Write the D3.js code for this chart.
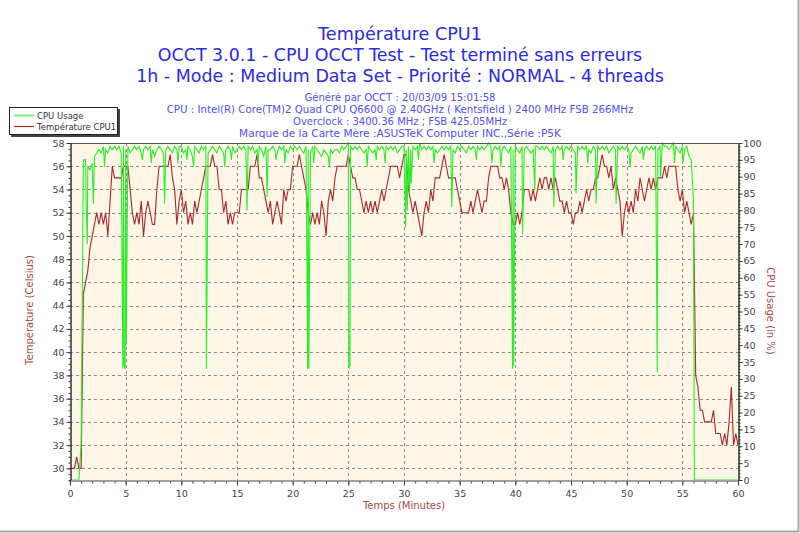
<!DOCTYPE html>
<html>
<head>
<meta charset="utf-8">
<script src="https://cdn.jsdelivr.net/npm/d3@7"></script>
<style>
  body { margin: 0; background: #fff; }
  svg { display: block; font-family: "DejaVu Sans", sans-serif; }
</style>
</head>
<body>
<div id="chart"></div>
<script>
var svgWidth = 800;
var svgHeight = 533;

// plot box (pixels)
var plot = { left: 70, right: 738, top: 143, bottom: 480 };

// text of the chart
var titleLines = [
  "Température CPU1",
  "OCCT 3.0.1 - CPU OCCT Test - Test terminé sans erreurs",
  "1h - Mode : Medium Data Set - Priorité : NORMAL - 4 threads"
];
var infoLines = [
  "Généré par OCCT : 20/03/09 15:01:58",
  "CPU : Intel(R) Core(TM)2 Quad CPU Q6600 @ 2.40GHz ( Kentsfield ) 2400 MHz FSB 266MHz",
  "Overclock : 3400.36 MHz ; FSB 425.05MHz",
  "Marque de la Carte Mère :ASUSTeK Computer INC.,Série :P5K"
];
var seriesNames = ["CPU Usage", "Température CPU1"];

// tick values
var timeTicks = [0, 5, 10, 15, 20, 25, 30, 35, 40, 45, 50, 55, 60];
var tempTicks = [30, 32, 34, 36, 38, 40, 42, 44, 46, 48, 50, 52, 54, 56, 58];
var usageTicks = [0, 5, 10, 15, 20, 25, 30, 35, 40, 45, 50, 55, 60, 65, 70, 75, 80, 85, 90, 95, 100];

// samples every 0.2 minute, from 0 to 60
var sampleStep = 0.2;

var tempValues = [
  30,30,30,31,30,30,45,46,47,49,
  50,51,52,51,52,51,52,50,53,56,
  55,55,55,55,56,56,56,54,52,51,
  52,51,53,50,52,53,52,51,51,54,
  56,56,56,56,56,57,55,54,51,53,
  54,52,53,51,52,51,53,52,53,54,
  55,56,56,56,57,56,56,54,54,52,
  53,51,52,51,52,52,52,54,54,54,
  54,56,56,56,57,55,55,54,53,52,
  53,51,52,53,52,51,54,53,54,54,
  56,56,56,57,56,55,54,52,51,52,
  51,52,51,53,52,50,53,54,53,55,
  56,56,56,56,56,57,56,55,55,54,
  54,53,52,53,52,53,52,53,52,53,
  54,53,54,55,56,56,56,56,55,56,
  57,57,54,53,52,53,52,51,50,52,
  53,52,54,53,55,55,55,56,57,56,
  55,55,55,55,54,53,52,52,52,52,
  53,52,53,54,53,52,53,53,55,56,
  56,56,56,55,55,54,55,54,52,51,
  51,52,51,52,54,54,54,53,54,53,
  54,55,54,55,55,54,55,54,55,54,
  53,53,52,53,52,52,51,52,52,53,
  52,53,54,53,54,54,55,55,56,57,
  56,56,55,56,54,55,54,53,50,52,
  53,52,53,52,54,53,55,54,53,54,
  55,54,55,54,55,55,55,56,55,56,
  56,56,56,54,53,54,52,53,52,51,
  52,38,37,35,35,34,34,34,34,35,
  33,33,33,32,33,32,34,37,32,33,
  32
];

var usageValues = [
  0,0,0,0,0,11,95,95,93,92,
  94,96,97,98,97,99,98,97,99,98,
  99,98,99,97,99,98,99,97,98,99,
  98,99,97,98,99,98,99,98,96,98,
  99,98,97,98,99,98,97,99,98,99,
  99,97,98,99,98,96,99,98,97,99,
  98,99,97,98,99,98,97,99,98,97,
  98,99,98,99,97,98,99,98,99,98,
  99,98,99,97,98,99,98,96,99,98,
  98,99,98,97,99,98,99,98,97,99,
  98,99,98,99,98,97,99,98,97,99,
  99,98,97,96,98,97,96,98,97,98,
  98,97,99,98,99,100,99,98,99,98,
  99,98,97,98,99,98,97,98,99,98,
  99,98,99,98,99,98,99,97,98,99,
  99,98,99,98,99,98,99,100,98,99,
  98,99,98,99,98,97,98,99,98,99,
  98,99,98,97,99,98,99,98,97,99,
  98,99,98,99,98,99,98,99,100,99,
  98,99,98,99,98,99,98,97,99,98,
  99,98,97,99,98,99,98,97,98,99,
  99,98,99,98,99,98,97,99,98,99,
  98,99,98,99,98,99,98,97,99,98,
  99,98,99,98,97,99,98,99,98,99,
  98,99,97,98,99,98,99,98,99,98,
  99,98,97,98,99,98,97,99,98,99,
  98,99,98,99,98,99,100,99,99,98,
  99,100,99,98,97,99,98,99,96,95,
  83,0,0,0,0,0,0,0,0,0,
  0,0,0,0,0,0,0,0,0,0,
  0
];

// short drops of the usage between the regular samples
var usageDropTime = [1.45, 1.55, 2.1, 3.1, 4.75, 4.85, 4.95, 5.05, 6.5, 7.3, 8.5, 9.7, 10.5, 11.1,
  12.25, 13.9, 14.5, 15.9, 16.9, 17.7, 18.5, 19.3, 21.35, 21.45, 21.9, 23.3, 25.05, 25.15,
  26.7, 27.5, 28.3, 30.15, 30.3, 30.5, 30.65, 31.3, 32.7, 34.3, 36.5, 37.9, 38.7, 39.75, 39.85,
  40.65, 41.75, 43.45, 44.3, 45.45, 46.5, 47.25, 49.05, 50.3, 51.5, 52.75, 53.05, 54.3, 55.05, 56.08];
var usageDropValue = [82, 70, 82, 93, 33, 34, 33, 40, 95, 94, 82, 94, 95, 93,
  33, 93, 95, 80, 94, 84, 95, 94, 33, 33, 94, 93, 33, 34,
  93, 95, 94, 75, 80, 85, 88, 95, 94, 81, 95, 94, 93, 33, 34,
  73, 86, 81, 95, 85, 94, 82, 82, 93, 95, 32, 90, 94, 94, 0];

// build point lists
var tempData = tempValues.map((v, i) => ({ t: i * sampleStep, v: v }));
var usageData = usageValues.map((v, i) => ({ t: i * sampleStep, v: v }))
  .concat(usageDropTime.map((t, i) => ({ t: t, v: usageDropValue[i] })))
  .sort((a, b) => a.t - b.t);

var svg = d3.select("#chart")
  .append("svg")
  .attr("width", svgWidth)
  .attr("height", svgHeight);

// scales
var x = d3.scaleLinear().domain([0, 60]).range([plot.left, plot.right]);
var yTemp = d3.scaleLinear().domain([29, 58]).range([plot.bottom, plot.top]);
var yUsage = d3.scaleLinear().domain([0, 100]).range([plot.bottom, plot.top]);

// frame shadow of the picture
svg.append("line").attr("x1", 0).attr("x2", 799).attr("y1", 531.5).attr("y2", 531.5)
  .attr("stroke", "#a8a8a8").attr("stroke-width", 2);
svg.append("line").attr("x1", 798.5).attr("x2", 798.5).attr("y1", 0).attr("y2", 532)
  .attr("stroke", "#a8a8a8").attr("stroke-width", 2);

// titles, each fitted to the width it has in the picture
function fitText(sel, width) {
  var w = sel.node().getComputedTextLength();
  var fs = parseFloat(sel.attr("font-size"));
  sel.attr("font-size", (fs * width / w).toFixed(2));
}

var titleWidths = [164, 485, 528];
var titleBase = [40, 61, 82];
titleLines.forEach(function (line, i) {
  var t = svg.append("text")
    .attr("x", 400).attr("y", titleBase[i])
    .attr("text-anchor", "middle")
    .attr("font-size", 16)
    .attr("fill", "#2a2ae0")
    .text(line);
  fitText(t, titleWidths[i]);
});

var infoWidths = [191, 467, 214, 322];
infoLines.forEach(function (line, i) {
  var t = svg.append("text")
    .attr("x", 400).attr("y", 100.5 + i * 12)
    .attr("text-anchor", "middle")
    .attr("font-size", 10)
    .attr("fill", "#5050f0")
    .text(line);
  fitText(t, infoWidths[i]);
});

// plot background
svg.append("rect")
  .attr("x", plot.left).attr("y", plot.top)
  .attr("width", plot.right - plot.left).attr("height", plot.bottom - plot.top)
  .attr("fill", "#fdf6e7");

// grid
var grid = svg.append("g")
  .attr("stroke", "#8a8a8a")
  .attr("stroke-dasharray", "3,3")
  .attr("stroke-width", 1);

grid.selectAll(".hgrid")
  .data(tempTicks.filter(d => d < 58))
  .enter()
  .append("line")
  .attr("x1", plot.left).attr("x2", plot.right)
  .attr("y1", d => Math.round(yTemp(d)) + 0.5)
  .attr("y2", d => Math.round(yTemp(d)) + 0.5);

grid.selectAll(".vgrid")
  .data(timeTicks.filter(d => d > 0 && d < 60))
  .enter()
  .append("line")
  .attr("y1", plot.top).attr("y2", plot.bottom)
  .attr("x1", d => Math.round(x(d)) + 0.5)
  .attr("x2", d => Math.round(x(d)) + 0.5);

// series lines
var tempLine = d3.line()
  .x(d => x(d.t))
  .y(d => yTemp(d.v));

var usageLine = d3.line()
  .x(d => x(d.t))
  .y(d => yUsage(d.v));

var clip = svg.append("clipPath").attr("id", "plotclip")
  .append("rect")
  .attr("x", plot.left).attr("y", plot.top - 1)
  .attr("width", plot.right - plot.left).attr("height", plot.bottom - plot.top + 1);

svg.append("path")
  .datum(tempData)
  .attr("clip-path", "url(#plotclip)")
  .attr("fill", "none")
  .attr("stroke", "#a42a2a")
  .attr("stroke-width", 1.1)
  .attr("d", tempLine);

svg.append("path")
  .datum(usageData)
  .attr("clip-path", "url(#plotclip)")
  .attr("fill", "none")
  .attr("stroke", "#2aee2a")
  .attr("stroke-width", 1.1)
  .attr("d", usageLine);

// frame of the plot
svg.append("line")
  .attr("x1", plot.left).attr("x2", plot.right)
  .attr("y1", plot.top + 0.5).attr("y2", plot.top + 0.5)
  .attr("stroke", "#555");
svg.append("line")
  .attr("x1", plot.left - 1).attr("x2", plot.right + 1)
  .attr("y1", plot.bottom + 1).attr("y2", plot.bottom + 1)
  .attr("stroke", "#a0a0a0").attr("stroke-width", 2);

// axes
function styleAxis(g) {
  g.select(".domain").attr("stroke", "#333");
  g.selectAll(".tick line").attr("stroke", "#333");
  g.selectAll(".tick text")
    .attr("fill", "#444")
    .attr("font-size", 9.5)
    .attr("font-family", "DejaVu Sans, sans-serif");
}

var leftAxis = d3.axisLeft(yTemp).tickValues(tempTicks).tickSize(4).tickSizeOuter(0).tickPadding(2);
var leftMinor = d3.axisLeft(yTemp).tickValues(d3.range(29, 58.01, 0.5)).tickSize(2).tickSizeOuter(0).tickFormat("");
svg.append("g").attr("transform", `translate(${plot.left + 0.5}, 0)`).call(leftMinor).call(styleAxis);
svg.append("g").attr("transform", `translate(${plot.left + 0.5}, 0)`).call(leftAxis).call(styleAxis);

var rightAxis = d3.axisRight(yUsage).tickValues(usageTicks).tickSize(4).tickSizeOuter(0).tickPadding(1);
var rightMinor = d3.axisRight(yUsage).tickValues(d3.range(0, 101, 1)).tickSize(2).tickSizeOuter(0).tickFormat("");
svg.append("g").attr("transform", `translate(${plot.right + 0.5}, 0)`).call(rightMinor).call(styleAxis);
svg.append("g").attr("transform", `translate(${plot.right + 0.5}, 0)`).call(rightAxis).call(styleAxis);

var bottomAxis = d3.axisBottom(x).tickValues(timeTicks).tickSize(4).tickSizeOuter(0).tickPadding(5);
var bottomMinor = d3.axisBottom(x).tickValues(d3.range(0, 61, 1)).tickSize(2).tickSizeOuter(0).tickFormat("");
svg.append("g").attr("transform", `translate(0, ${plot.bottom + 1.5})`).call(bottomMinor).call(styleAxis)
  .select(".domain").attr("stroke", "none");
svg.append("g").attr("transform", `translate(0, ${plot.bottom + 1.5})`).call(bottomAxis).call(styleAxis)
  .select(".domain").attr("stroke", "none");

// axis titles
svg.append("text")
  .attr("x", 404).attr("y", 509)
  .attr("text-anchor", "middle")
  .attr("font-size", 10)
  .attr("fill", "#a24848")
  .text("Temps (Minutes)");

svg.append("text")
  .attr("transform", "translate(33, 310) rotate(-90)")
  .attr("text-anchor", "middle")
  .attr("font-size", 10)
  .attr("fill", "#a24848")
  .text("Température (Celsius)");

svg.append("text")
  .attr("transform", "translate(767, 311) rotate(90)")
  .attr("text-anchor", "middle")
  .attr("font-size", 10)
  .attr("fill", "#a24848")
  .text("CPU Usage (in %)");

// legend
var legend = svg.append("g").attr("transform", "translate(9, 107)");
legend.append("rect")
  .attr("x", 2).attr("y", 2).attr("width", 109).attr("height", 28)
  .attr("fill", "#444");
legend.append("rect")
  .attr("x", 0.5).attr("y", 0.5).attr("width", 108).attr("height", 27)
  .attr("fill", "#fff").attr("stroke", "#222");

var legendColors = ["#7cf07c", "#a42a2a"];
seriesNames.forEach(function (name, i) {
  legend.append("line")
    .attr("x1", 5).attr("x2", 25)
    .attr("y1", 8.5 + i * 11).attr("y2", 8.5 + i * 11)
    .attr("stroke", legendColors[i]).attr("stroke-width", i === 0 ? 2 : 1.2);
  legend.append("text")
    .attr("x", 28).attr("y", 12 + i * 11)
    .attr("font-size", 8.5)
    .attr("fill", "#333")
    .text(name);
});
</script>
</body>
</html>
